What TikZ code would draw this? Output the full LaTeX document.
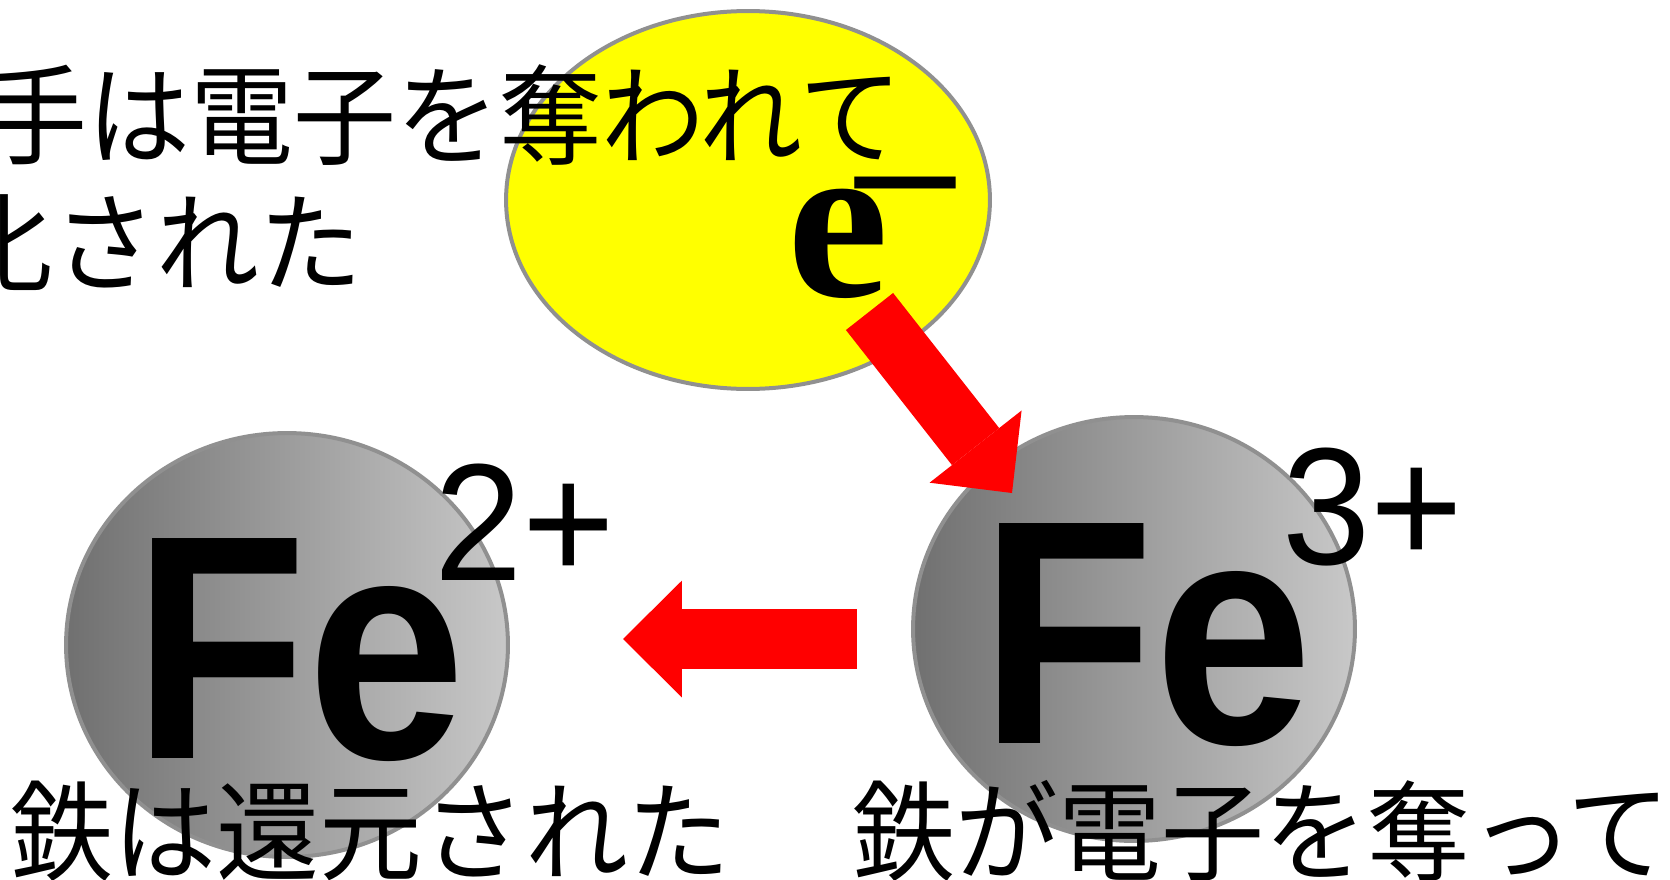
\documentclass[tikz,border=0pt]{standalone}
\usepackage{graphicx}
\usepackage{fontspec}
\setmainfont{Liberation Sans}
\newfontfamily\jpfont{Noto Sans CJK JP}
\newfontfamily\eserif{Liberation Serif}
\usetikzlibrary{shapes.geometric,arrows.meta,positioning}
\definecolor{ringgray}{RGB}{144,144,144}
\definecolor{irondark}{RGB}{112,112,112}
\definecolor{ironlight}{RGB}{200,200,200}
\definecolor{elecyellow}{RGB}{255,255,0}
\definecolor{arrowred}{RGB}{255,0,0}
\newcommand{\hsquash}[2]{\scalebox{#1}[1]{#2}}

\begin{document}
\begin{tikzpicture}[x=0.02cm, y=-0.02cm,
    ion/.style={ellipse, draw=ringgray, line width=0.08cm, left color=irondark, right color=ironlight, minimum width=8.84cm, minimum height=8.48cm},
    symb/.style={anchor=base west, inner sep=0pt, font=\fontsize{182}{182}\selectfont\bfseries},
    charge/.style={anchor=base west, inner sep=0pt, font=\fontsize{95}{95}\selectfont},
    jptext/.style={anchor=west, inner sep=0pt, font=\fontsize{62}{62}\selectfont\jpfont},
    bigarrow/.style={draw=arrowred, line width=1.2cm, -{Triangle[length=1.18cm, width=2.34cm, line width=0pt]}}]
    \useasboundingbox (0,0) rectangle (1670,879);
    \clip (0,0) rectangle (1670,879);

    % electron
    \node[ellipse, draw=ringgray, line width=0.08cm, fill=elecyellow, minimum width=9.68cm, minimum height=7.56cm] (cloud) at (748,200) {};
    \node[anchor=base west, inner sep=0pt, font=\fontsize{130}{130}\selectfont] (elec) at (787,296) {{\eserif\bfseries e}\kern-25pt\raisebox{33pt}{\fontsize{95}{95}\selectfont\hsquash{1.25}{−}}};

    % iron ions
    \node[ion] (fe2ion) at (287,645) {};
    \node[ion] (fe3ion) at (1134,629) {};
    \node[symb] (fe2) at (133,758) {\hsquash{0.89}{Fe}};
    \node[charge] (fe2chg) at (434,580) {\hsquash{0.95}{2+}};
    \node[symb] (fe3) at (980,743) {\hsquash{0.89}{Fe}};
    \node[charge] (fe3chg) at (1282,564) {\hsquash{0.95}{3+}};

    % arrows
    \coordinate (etail) at (869.5,311.5);
    \coordinate (etip) at (1012,493);
    \coordinate (htail) at (857,639);
    \coordinate (htip) at (623,639);
    \draw[bigarrow] (etail) -- (etip);
    \draw[bigarrow] (htail) -- (htip);

    % texts
    \node[jptext] (ox1) at (-16,115) {\hsquash{0.945}{手は電子を奪われて}};
    \node[jptext] (ox2) at (-50,243) {\hsquash{0.945}{化された}};
    \node[jptext] (red1) at (10,831) {\hsquash{0.945}{鉄は還元された}};
    \node[jptext] (red2) at (852,831) {\hsquash{0.945}{鉄が電子を奪って}};
\end{tikzpicture}
\end{document}
